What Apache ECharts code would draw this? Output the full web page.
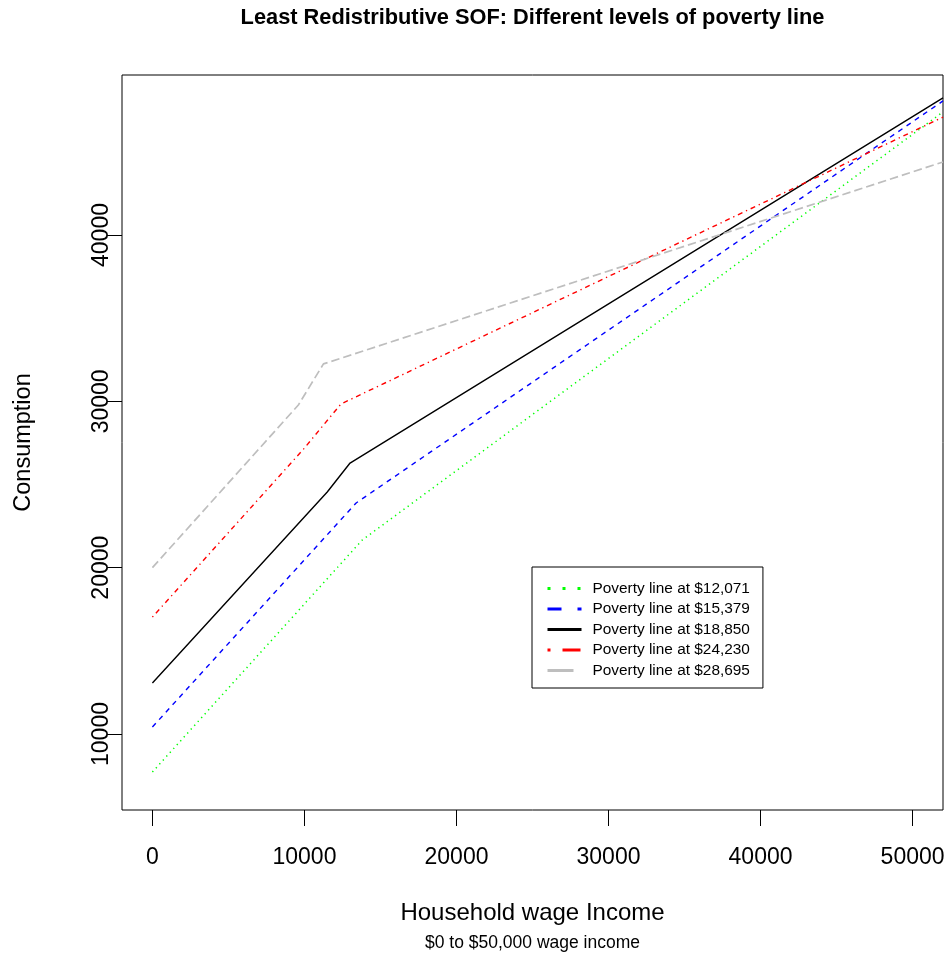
<!DOCTYPE html>
<html>
<head>
<meta charset="utf-8">
<title>Least Redistributive SOF</title>
<script src="https://cdn.jsdelivr.net/npm/echarts@6/dist/echarts.min.js"></script>
<style>
  html, body { margin: 0; padding: 0; background: #fff; }
  #chart { width: 950px; height: 957px; }
</style>
</head>
<body>
<div id="chart"></div>
<script>
// Consumption schedules by household wage income, one per poverty line level
const seriesNames = [
  'Poverty line at $12,071',
  'Poverty line at $15,379',
  'Poverty line at $18,850',
  'Poverty line at $24,230',
  'Poverty line at $28,695'
];
const income12071 = [0, 13800, 52000];
const consumption12071 = [7715, 21660, 47400];
const income15379 = [0, 13400, 52000];
const consumption15379 = [10420, 23890, 48060];
const income18850 = [0, 11500, 13000, 52000];
const consumption18850 = [13070, 24550, 26290, 48240];
const income24230 = [0, 10000, 12400, 52000];
const consumption24230 = [17030, 27190, 29840, 47090];
const income28695 = [0, 9600, 11250, 52000];
const consumption28695 = [20000, 29780, 32250, 44390];

const xTicks = [0, 10000, 20000, 30000, 40000, 50000];
const yTicks = [10000, 20000, 30000, 40000];

const FONT = "'Liberation Sans', Arial, Helvetica, sans-serif";

function pairs(xs, ys) { return xs.map((x, i) => [x, ys[i]]); }

const lineDefs = [
  { name: seriesNames[0], data: pairs(income12071, consumption12071), color: '#00FF00', type: [1.3, 3.9], width: 1.5, legendType: [3, 12] },
  { name: seriesNames[1], data: pairs(income15379, consumption15379), color: '#0000FF', type: [5, 5], width: 1.4, legendType: [14, 16] },
  { name: seriesNames[2], data: pairs(income18850, consumption18850), color: '#000000', type: 'solid', width: 1.4, legendType: 'solid' },
  { name: seriesNames[3], data: pairs(income24230, consumption24230), color: '#FF0000', type: [1.3, 3.9, 5, 3.9], width: 1.4, legendType: [3, 12, 18, 12] },
  { name: seriesNames[4], data: pairs(income28695, consumption28695), color: '#BEBEBE', type: [8.5, 4], width: 1.7, legendType: [26, 12] }
];

const chart = echarts.init(document.getElementById('chart'), null, { renderer: 'canvas' });

chart.setOption({
  backgroundColor: '#ffffff',
  animation: false,
  textStyle: { fontFamily: FONT },
  title: [
    {
      text: 'Least Redistributive SOF: Different levels of poverty line',
      left: 532.5, top: 7, textAlign: 'center', padding: 0,
      textStyle: { fontFamily: FONT, fontSize: 21.8, fontWeight: 'bold', color: '#000' }
    },
    {
      text: '$0 to $50,000 wage income',
      left: 532.5, top: 934, textAlign: 'center', padding: 0,
      textStyle: { fontFamily: FONT, fontSize: 17.5, fontWeight: 'normal', color: '#000' }
    }
  ],
  grid: {
    left: 122, right: 7, top: 75, bottom: 147,
    show: true, borderColor: '#000', borderWidth: 1, backgroundColor: 'transparent'
  },
  legend: {
    orient: 'vertical',
    left: 532, top: 567,
    padding: [14, 13, 10, 14],
    itemWidth: 34, itemHeight: 14, itemGap: 5.5,
    borderColor: '#000', borderWidth: 1, backgroundColor: '#fff',
    selectedMode: false,
    textStyle: { fontFamily: FONT, fontSize: 15.4, color: '#000', padding: [0, 0, 0, 6] },
    data: lineDefs.map(d => ({
      name: d.name,
      itemStyle: { color: 'rgba(0,0,0,0)', borderColor: 'rgba(0,0,0,0)', borderWidth: 0 },
      lineStyle: { color: d.color, width: 3, type: d.legendType, cap: 'butt' }
    }))
  },
  xAxis: {
    type: 'value', min: -2000, max: 52000,
    name: 'Household wage Income', nameLocation: 'middle', nameGap: 91,
    nameTextStyle: { fontFamily: FONT, fontSize: 24, color: '#000' },
    axisLine: { show: false, onZero: false },
    splitLine: { show: false },
    axisTick: { show: true, length: 16, customValues: xTicks, lineStyle: { color: '#000', width: 1 } },
    axisLabel: { customValues: xTicks, margin: 36, fontFamily: FONT, fontSize: 23, color: '#000', formatter: v => String(v) }
  },
  yAxis: {
    type: 'value', min: 5430, max: 49620,
    name: 'Consumption', nameLocation: 'middle', nameGap: 86, nameRotate: 90,
    nameTextStyle: { fontFamily: FONT, fontSize: 23.5, color: '#000' },
    axisLine: { show: false, onZero: false },
    splitLine: { show: false },
    axisTick: { show: true, length: 15, customValues: yTicks, lineStyle: { color: '#000', width: 1 } },
    axisLabel: { customValues: yTicks, rotate: 90, margin: 9, fontFamily: FONT, fontSize: 23, color: '#000', formatter: v => String(v) }
  },
  series: lineDefs.map(d => ({
    name: d.name,
    type: 'line',
    data: d.data,
    showSymbol: false,
    symbol: 'none',
    clip: true,
    color: d.color,
    lineStyle: { color: d.color, width: d.width, type: d.type, cap: 'butt' }
  }))
});
</script>
</body>
</html>
